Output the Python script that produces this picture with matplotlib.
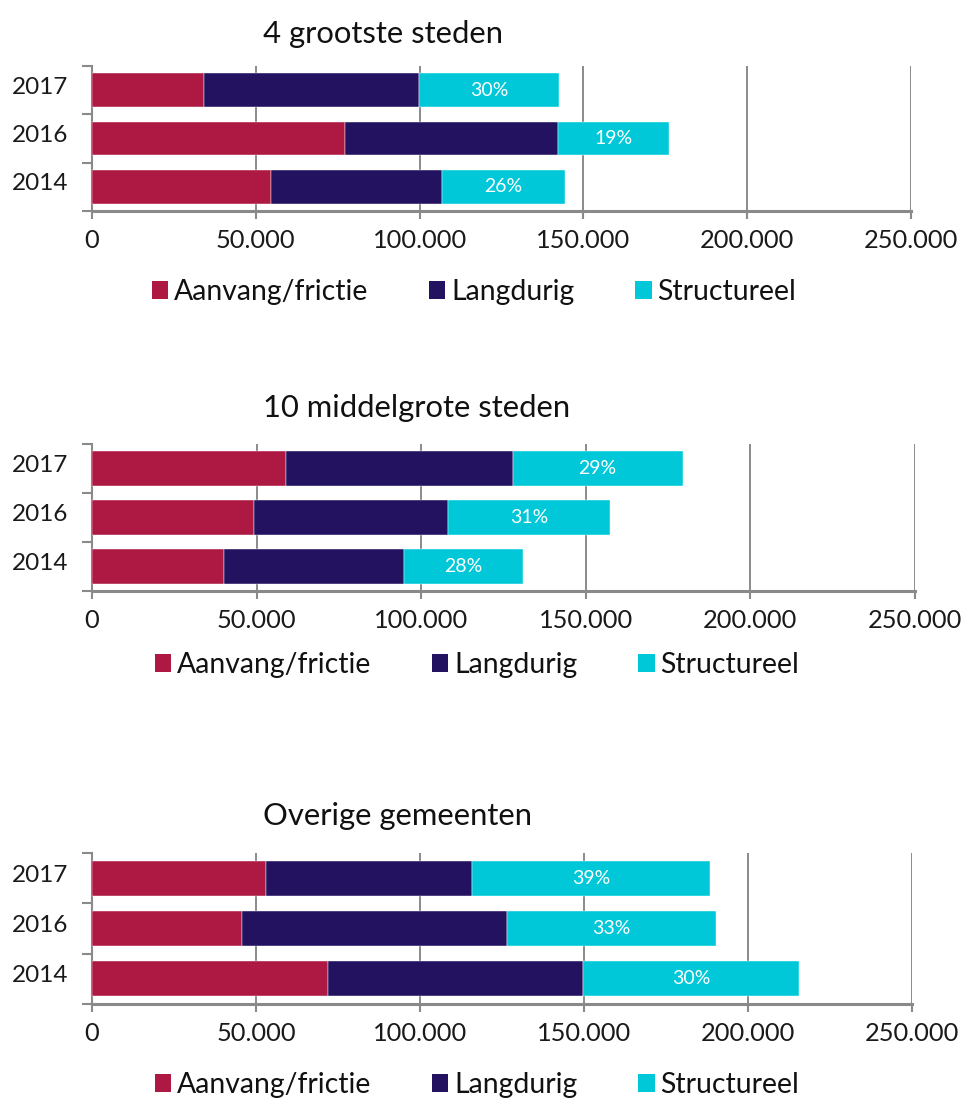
import matplotlib
matplotlib.use("Agg")
import matplotlib.pyplot as plt
from matplotlib.patches import Patch
from matplotlib.transforms import ScaledTranslation
from matplotlib.ticker import FuncFormatter, MultipleLocator, FixedLocator

plt.rcParams['font.family'] = ['Lato', 'DejaVu Sans']

years = ["2014", "2016", "2017"]
series_names = ["Aanvang/frictie", "Langdurig", "Structureel"]
colors = ["#AD1942", "#231260", "#00C8D8"]

titles = ["4 grootste steden", "10 middelgrote steden", "Overige gemeenten"]

# values per panel, order: 2014, 2016, 2017
p1_aanvang = [54600, 77300, 34200]
p1_langdurig = [52300, 65000, 65600]
p1_structureel = [37500, 33900, 42900]
p1_labels = ["26%", "19%", "30%"]

p2_aanvang = [40100, 49100, 58900]
p2_langdurig = [54700, 59000, 68900]
p2_structureel = [36000, 49400, 51600]
p2_labels = ["28%", "31%", "29%"]

p3_aanvang = [71800, 45700, 53200]
p3_langdurig = [78000, 80900, 62600]
p3_structureel = [65700, 63500, 72600]
p3_labels = ["30%", "33%", "39%"]

panels = [
    (p1_aanvang, p1_langdurig, p1_structureel, p1_labels),
    (p2_aanvang, p2_langdurig, p2_structureel, p2_labels),
    (p3_aanvang, p3_langdurig, p3_structureel, p3_labels),
]

W, H = 963, 1102
fig = plt.figure(figsize=(W / 100, H / 100), dpi=100)

# layout in pixels: (left, right, top, bottom), title y, legend y, legend center x
layout = [
    (92, 911, 66, 211, 34, 292, 474),
    (92, 915, 444, 591, 408, 665, 477),
    (92, 912, 853, 1004, 816, 1085, 477),
]

grey = "#8A8A8A"

def fmt(v, pos):
    return f"{int(v):,}".replace(",", ".")

for (a, l, s, labs), title, (xl, xr, yt, yb, ty, ly, lx) in zip(panels, titles, layout):
    ax = fig.add_axes([xl / W, 1 - yb / H, (xr - xl) / W, (yb - yt) / H])
    ypos = list(range(len(years)))
    left2 = [ai + li for ai, li in zip(a, l)]
    bh = 0.70
    ax.barh(ypos, a, height=bh, color=colors[0], zorder=3, edgecolor="white", linewidth=0.3)
    ax.barh(ypos, l, left=a, height=bh, color=colors[1], zorder=3, edgecolor="white", linewidth=0.3)
    ax.barh(ypos, s, left=left2, height=bh, color=colors[2], zorder=3, edgecolor="white", linewidth=0.3)
    for y, lf, sv, lab in zip(ypos, left2, s, labs):
        ax.text(lf + sv / 2, y, lab, color="white", ha="center", va="center",
                fontsize=14, zorder=4)
    ax.set_xlim(0, 250000)
    ax.set_ylim(-0.5, len(years) - 0.5)
    ax.xaxis.set_major_locator(MultipleLocator(50000))
    ax.xaxis.set_major_formatter(FuncFormatter(fmt))
    ax.set_yticks(ypos)
    ax.set_yticklabels(years)
    ax.yaxis.set_minor_locator(FixedLocator([-0.5, 0.5, 1.5, 2.5]))
    ax.tick_params(axis="y", which="major", length=0, pad=17, labelsize=17.5, labelcolor="#1a1a1a")
    ax.tick_params(axis="y", which="minor", length=7, width=1.5, color=grey)
    ax.tick_params(axis="x", which="major", length=6, width=1.5, color=grey, pad=7,
                   labelsize=18.3, labelcolor="#1a1a1a")
    shift = ScaledTranslation(0, 5 / 100, fig.dpi_scale_trans)
    for lbl in ax.get_yticklabels():
        lbl.set_transform(lbl.get_transform() + shift)
    ax.grid(axis="x", color=grey, linewidth=1.4, zorder=0)
    for side in ["top", "right"]:
        ax.spines[side].set_visible(False)
    ax.spines["left"].set_color(grey)
    ax.spines["left"].set_linewidth(1.5)
    ax.spines["bottom"].set_color(grey)
    ax.spines["bottom"].set_linewidth(2.2)
    ax.spines["bottom"].set_zorder(5)

    fig.text(263 / W, 1 - ty / H, title, ha="left", va="center", fontsize=22.3, color="#111111")

    handles = [Patch(facecolor=c, edgecolor="none") for c in colors]
    fig.legend(handles, series_names, loc="center", bbox_to_anchor=(lx / W, 1 - ly / H),
               ncol=3, frameon=False, fontsize=20.4, handlelength=0.57, handleheight=0.57,
               handletextpad=0.21, columnspacing=2.15, labelcolor="#111111")

fig.savefig("out.png", dpi=100)
